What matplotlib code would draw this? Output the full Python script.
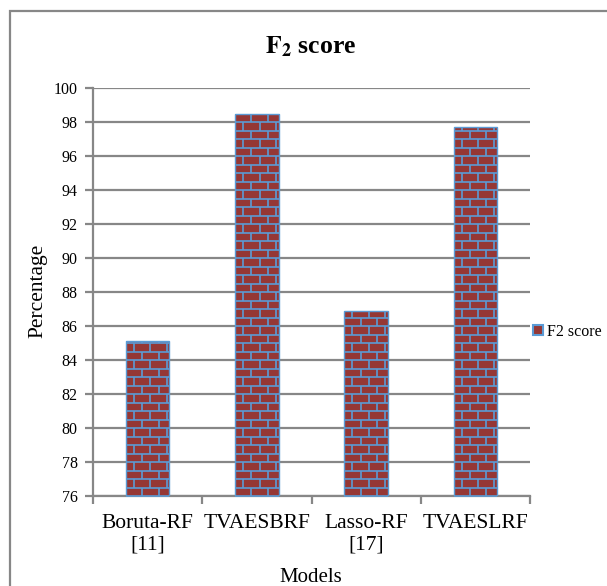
import numpy as np
import matplotlib
matplotlib.use('Agg')
import matplotlib.pyplot as plt
from matplotlib.collections import LineCollection
from matplotlib.patches import Rectangle

plt.rcParams['font.family'] = ['Liberation Serif', 'DejaVu Serif']
plt.rcParams['mathtext.fontset'] = 'stix'

modeles = ['Boruta-RF\n[11]', 'TVAESBRF', 'Lasso-RF\n[17]', 'TVAESLRF']
f2_score = [85.1, 98.5, 86.9, 97.7]

rouge_brique = '#953735'
bleu_joint = '#5B9BD5'
gris = '#878787'

fig = plt.figure(figsize=(6.07, 5.86), dpi=100)
ax = fig.add_axes([93 / 607, 1 - 496 / 586, 437 / 607, 408 / 586])

x = np.arange(len(modeles))
barres = ax.bar(x, f2_score, width=0.4, color=rouge_brique, edgecolor=bleu_joint,
                linewidth=1.0, zorder=3, label='F2 score')

ax.set_ylim(76, 100)
ax.set_xlim(-0.5, len(modeles) - 0.5)

# motif briques : joints bleus dessines par-dessus chaque barre
haut_rang = 0.5
larg_brique = 0.15
for rect in barres:
    x0 = rect.get_x()
    w = rect.get_width()
    top = rect.get_height()
    segs = []
    ys = np.arange(76, top, haut_rang)
    for y in ys:
        segs.append([(x0, y), (x0 + w, y)])
    for i, y in enumerate(ys):
        dec = 0 if i % 2 == 0 else larg_brique / 2
        for xv in np.arange(x0 - larg_brique + dec, x0 + w + larg_brique, larg_brique):
            if x0 < xv < x0 + w:
                segs.append([(xv, y), (xv, min(y + haut_rang, top))])
    lc = LineCollection(segs, colors=bleu_joint, linewidths=1.2, zorder=4)
    ax.add_collection(lc)
    lc.set_clip_path(rect)

ax.set_yticks(np.arange(76, 101, 2))
ax.yaxis.grid(True, color=gris, linewidth=1.6, zorder=0)
ax.set_axisbelow(True)

ax.set_xticks(x)
ax.set_xticklabels(modeles)
ax.set_xticks(np.arange(-0.5, len(modeles)), minor=True)
ax.tick_params(axis='x', which='major', length=0, pad=13, labelsize=15.5)
ax.tick_params(axis='x', which='minor', length=6, width=1.6, color=gris)
ax.tick_params(axis='y', length=6, width=1.6, color=gris, pad=5, labelsize=11.5)

for s in ['top', 'right']:
    ax.spines[s].set_visible(False)
for s in ['left', 'bottom']:
    ax.spines[s].set_color(gris)
    ax.spines[s].set_linewidth(1.6)

fig.text(311 / 607, 1 - 47 / 586, r'$\mathbf{F_2}$ score', ha='center', va='center',
         fontsize=18.5, fontweight='bold')
fig.text(38 / 607, 1 - 291 / 586, 'Percentage', rotation=90, ha='center', va='center',
         fontsize=15.5)
fig.text(311 / 607, 1 - 577 / 586, 'Models', ha='center', va='center', fontsize=15)

fig.legend(handles=[Rectangle((0, 0), 1, 1, facecolor=rouge_brique, edgecolor=bleu_joint,
                              linewidth=1.5)],
           labels=['F2 score'], loc='center left', bbox_to_anchor=(533 / 607, 1 - 332 / 586),
           frameon=False, fontsize=11.5, handlelength=0.6, handleheight=0.6,
           handletextpad=0.3, borderpad=0, borderaxespad=0)

# cadre gris autour du graphique
fig.patches.append(Rectangle((10 / 607, -0.1), 1.2, 1 - 11 / 586 + 0.1, transform=fig.transFigure,
                             fill=False, edgecolor=gris, linewidth=1.6))

fig.savefig('out.png', dpi=100, facecolor='white')
